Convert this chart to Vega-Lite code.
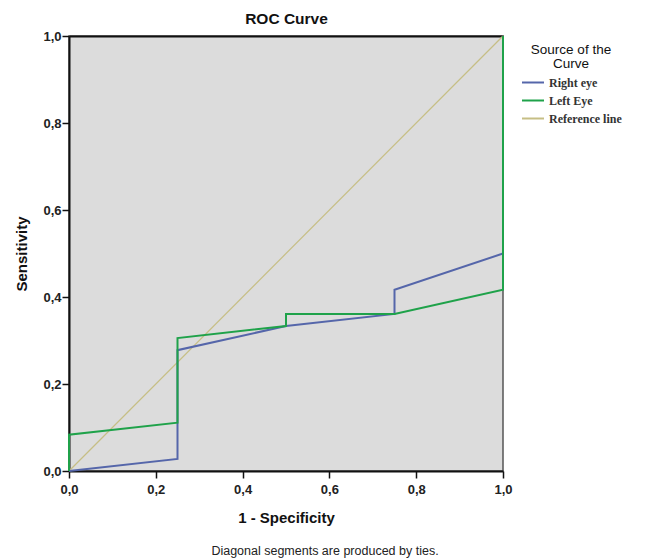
{
  "$schema": "https://vega.github.io/schema/vega-lite/v6.json",
  "width": 434,
  "height": 435,
  "autosize": {"type": "none"},
  "padding": {"left": 69, "top": 36, "right": 148, "bottom": 89},
  "background": "white",
  "title": {
    "text": "Diagonal segments are produced by ties.",
    "orient": "bottom",
    "anchor": "middle",
    "dx": 39,
    "offset": 20,
    "font": "Liberation Sans",
    "fontSize": 12.5,
    "fontWeight": "normal",
    "color": "#222"
  },
  "config": {
    "view": {"fill": "#dcdcdc", "stroke": "#555", "strokeWidth": 1.5},
    "axis": {
      "grid": false,
      "domainColor": "#111",
      "domainWidth": 2,
      "tickColor": "#111",
      "tickWidth": 1.5,
      "tickSize": 7,
      "labelFont": "Liberation Sans",
      "labelFontSize": 13,
      "labelFontWeight": "bold",
      "labelColor": "#222",
      "labelFlush": false,
      "titleFont": "Liberation Sans",
      "titleFontSize": 15,
      "titleFontWeight": "bold",
      "titleColor": "#111"
    },
    "legend": {
      "titleFont": "Liberation Sans",
      "titleFontSize": 13.5,
      "titleFontWeight": "normal",
      "titleColor": "#111",
      "labelFont": "Liberation Serif",
      "labelFontSize": 12,
      "labelFontWeight": "bold",
      "labelColor": "#333"
    }
  },
  "data": {
    "values": [
      {"curve": "Reference line", "ord": 1, "fpr": 0, "tpr": 0},
      {"curve": "Reference line", "ord": 2, "fpr": 1, "tpr": 1},
      {"curve": "Right eye", "ord": 1, "fpr": 0, "tpr": 0},
      {"curve": "Right eye", "ord": 2, "fpr": 0.25, "tpr": 0.0278},
      {"curve": "Right eye", "ord": 3, "fpr": 0.25, "tpr": 0.2778},
      {"curve": "Right eye", "ord": 4, "fpr": 0.5, "tpr": 0.3333},
      {"curve": "Right eye", "ord": 5, "fpr": 0.75, "tpr": 0.3611},
      {"curve": "Right eye", "ord": 6, "fpr": 0.75, "tpr": 0.4167},
      {"curve": "Right eye", "ord": 7, "fpr": 1, "tpr": 0.5},
      {"curve": "Right eye", "ord": 8, "fpr": 1, "tpr": 1},
      {"curve": "Left Eye", "ord": 1, "fpr": 0, "tpr": 0},
      {"curve": "Left Eye", "ord": 2, "fpr": 0, "tpr": 0.0833},
      {"curve": "Left Eye", "ord": 3, "fpr": 0.25, "tpr": 0.1111},
      {"curve": "Left Eye", "ord": 4, "fpr": 0.25, "tpr": 0.3056},
      {"curve": "Left Eye", "ord": 5, "fpr": 0.5, "tpr": 0.3333},
      {"curve": "Left Eye", "ord": 6, "fpr": 0.5, "tpr": 0.3611},
      {"curve": "Left Eye", "ord": 7, "fpr": 0.75, "tpr": 0.3611},
      {"curve": "Left Eye", "ord": 8, "fpr": 1, "tpr": 0.4167},
      {"curve": "Left Eye", "ord": 9, "fpr": 1, "tpr": 1}
    ]
  },
  "resolve": {"axis": {"x": "independent"}},
  "layer": [
    {
      "transform": [{"filter": "datum.curve === 'Reference line'"}],
      "mark": {"type": "line", "strokeWidth": 1.2, "clip": false},
      "encoding": {
        "x": {"field": "fpr", "type": "quantitative", "scale": {"domain": [0, 1], "nice": false},
          "axis": {"orient": "top", "title": "ROC Curve", "labels": false, "ticks": false, "domain": true, "domainWidth": 2, "titlePadding": 10, "titleFontSize": 15.5}},
        "y": {"field": "tpr", "type": "quantitative", "scale": {"domain": [0, 1], "nice": false},
          "axis": {"title": "Sensitivity", "values": [0, 0.2, 0.4, 0.6, 0.8, 1], "labelExpr": "replace(format(datum.value, '.1f'), '.', ',')", "titlePadding": 13, "labelPadding": 1}},
        "order": {"field": "ord", "type": "quantitative"},
        "color": {"field": "curve", "type": "nominal",
          "scale": {"domain": ["Right eye", "Left Eye", "Reference line"], "range": ["#5566aa", "#1fa24a", "#c6be85"]},
          "legend": {"title": ["Source of the", "Curve"], "orient": "none", "legendX": 452, "legendY": 7, "titleAlign": "center", "titleAnchor": "middle", "titleLineHeight": 14, "symbolType": "stroke", "symbolSize": 484, "symbolStrokeWidth": 2, "rowPadding": -5, "labelOffset": 4, "titlePadding": 0}}
      }
    },
    {
      "transform": [{"filter": "datum.curve === 'Right eye'"}],
      "mark": {"type": "line", "strokeWidth": 2, "clip": false},
      "encoding": {
        "x": {"field": "fpr", "type": "quantitative", "scale": {"domain": [0, 1], "nice": false},
          "axis": {"orient": "bottom", "title": "1 - Specificity", "values": [0, 0.2, 0.4, 0.6, 0.8, 1], "labelExpr": "replace(format(datum.value, '.1f'), '.', ',')", "titlePadding": 14, "labelPadding": 5}},
        "y": {"field": "tpr", "type": "quantitative"},
        "order": {"field": "ord", "type": "quantitative"},
        "color": {"field": "curve", "type": "nominal"}
      }
    },
    {
      "transform": [{"filter": "datum.curve === 'Left Eye'"}],
      "mark": {"type": "line", "strokeWidth": 2, "clip": false},
      "encoding": {
        "x": {"field": "fpr", "type": "quantitative", "axis": null},
        "y": {"field": "tpr", "type": "quantitative"},
        "order": {"field": "ord", "type": "quantitative"},
        "color": {"field": "curve", "type": "nominal"}
      }
    }
  ]
}
